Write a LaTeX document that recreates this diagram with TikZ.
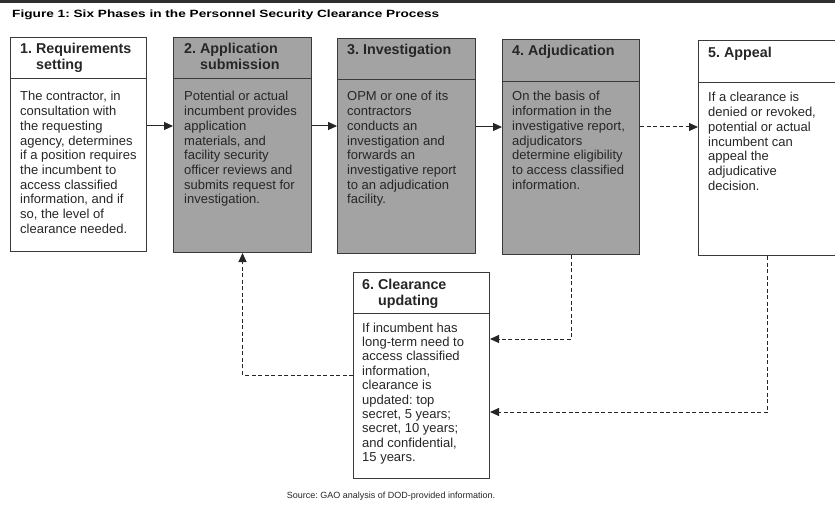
\documentclass[tikz,border=0pt]{standalone}
\usepackage{fontspec}
\setmainfont{Liberation Sans}
\newfontfamily\titlefont[FakeStretch=1.3]{Liberation Sans}
\usetikzlibrary{arrows.meta,calc}
\frenchspacing

\definecolor{ink}{HTML}{262626}
\definecolor{rulecol}{HTML}{3A3A3A}
\definecolor{shade}{HTML}{A3A3A3}
\definecolor{barcol}{HTML}{303030}

% multi-line texts are placed by the baseline of their last line
\tikzset{
  phase/.style={draw=rulecol, line width=1bp, anchor=north west, inner sep=0pt},
  shaded/.style={phase, fill=shade},
  divider/.style={draw=rulecol, line width=1bp},
  headtext/.style={anchor=base west, inner sep=0pt, align=left, text=ink,
    font=\fontsize{14.3bp}{15.5bp}\selectfont\bfseries},
  bodytext/.style={anchor=base west, inner sep=0pt, align=left, text=ink,
    font=\fontsize{13bp}{14.7bp}\selectfont},
  flow/.style={draw=ink, line width=1bp, -{Triangle[length=9bp,width=8bp]}},
  back/.style={flow, dash pattern=on 4bp off 2.5bp},
}

\begin{document}
\frenchspacing
\begin{tikzpicture}[x=1bp, y=-1bp]
  \useasboundingbox (0,0) rectangle (835,506);

  % heading band and figure title
  \fill[barcol] (0,0) rectangle (835,3.5);
  \node[anchor=base west, inner sep=0pt, text=black,
        font=\titlefont\fontsize{10.5bp}{12bp}\selectfont\bfseries] (title) at (12,17.3)
    {Figure 1: Six Phases in the Personnel Security Clearance Process};

  % the six phase boxes
  \node[phase,  minimum width=136bp, minimum height=214bp] (b1) at (10,37) {};
  \node[shaded, minimum width=138bp, minimum height=215bp] (b2) at (173,37) {};
  \node[shaded, minimum width=138bp, minimum height=215bp] (b3) at (337,38) {};
  \node[shaded, minimum width=137bp, minimum height=215bp] (b4) at (502,39) {};
  \node[phase,  minimum width=138bp, minimum height=215bp] (b5) at (698,40) {};
  \node[phase,  minimum width=136bp, minimum height=206bp] (b6) at (353,272) {};

  % header dividers
  \draw[divider] ($(b1.north west)+(0,42)$) -- ($(b1.north east)+(0,42)$);
  \draw[divider] ($(b2.north west)+(0,42)$) -- ($(b2.north east)+(0,42)$);
  \draw[divider] ($(b3.north west)+(0,42)$) -- ($(b3.north east)+(0,42)$);
  \draw[divider] ($(b4.north west)+(0,43)$) -- ($(b4.north east)+(0,43)$);
  \draw[divider] ($(b5.north west)+(0,43)$) -- ($(b5.north east)+(0,43)$);
  \draw[divider] ($(b6.north west)+(0,41)$) -- ($(b6.north east)+(0,41)$);

  % headers
  \node[headtext] (h1) at ($(b1.north west)+(10,32.5)$) {1. Requirements\\\phantom{1. }setting};
  \node[headtext] (h2) at ($(b2.north west)+(11,32.5)$) {2. Application\\\phantom{2. }submission};
  \node[headtext] (h3) at ($(b3.north west)+(10,17)$) {3. Investigation};
  \node[headtext] (h4) at ($(b4.north west)+(10,17)$) {4. Adjudication};
  \node[headtext] (h5) at ($(b5.north west)+(10,18)$) {5. Appeal};
  \node[headtext] (h6) at ($(b6.north west)+(9,33.5)$) {6. Clearance\\\phantom{6. }updating};

  % descriptions
  \node[bodytext] (t1) at ($(b1.north west)+(10,196.3)$) {The contractor, in\\consultation with\\the requesting\\agency, determines\\if a position requires\\the incumbent to\\access classified\\information, and if\\so, the level of\\clearance needed.};
  \node[bodytext] (t2) at ($(b2.north west)+(11,166.9)$) {Potential or actual\\incumbent provides\\application\\materials, and\\facility security\\officer reviews and\\submits request for\\investigation.};
  \node[bodytext] (t3) at ($(b3.north west)+(10,165.9)$) {OPM or one of its\\contractors\\conducts an\\investigation and\\forwards an\\investigative report\\to an adjudication\\facility.};
  \node[bodytext] (t4) at ($(b4.north west)+(10,150.2)$) {On the basis of\\information in the\\investigative report,\\adjudicators\\determine eligibility\\to access classified\\information.};
  \node[bodytext] (t5) at ($(b5.north west)+(10,150.2)$) {If a clearance is\\denied or revoked,\\potential or actual\\incumbent can\\appeal the\\adjudicative\\decision.};
  \node[bodytext, font=\fontsize{13bp}{14.4bp}\selectfont] (t6) at ($(b6.north west)+(9,189.6)$) {If incumbent has\\long-term need to\\access classified\\information,\\clearance is\\updated: top\\secret, 5 years;\\secret, 10 years;\\and confidential,\\15 years.};

  % levels of the connectors
  \coordinate (lvA) at (0,126);
  \coordinate (lvB) at (0,127);
  \coordinate (lv4) at (0,339);
  \coordinate (lv5) at (0,412);
  \coordinate (lv6) at (0,375);

  % forward flow
  \draw[flow] (b1.east |- lvA) -- (b2.west |- lvA);
  \draw[flow] (b2.east |- lvA) -- (b3.west |- lvA);
  \draw[flow] (b3.east |- lvB) -- (b4.west |- lvB);
  \draw[back] (b4.east |- lvB) -- (b5.west |- lvB);

  % updating loop
  \draw[back] (b4.south) |- (b6.east |- lv4);
  \draw[back] (b5.south) |- (b6.east |- lv5);
  \draw[back] (b6.west |- lv6) -| (b2.south);

  % source line
  \node[anchor=base, inner sep=0pt, text=ink,
        font=\fontsize{9bp}{10bp}\selectfont] (src) at (391,498)
    {Source: GAO analysis of DOD-provided information.};
\end{tikzpicture}
\end{document}
